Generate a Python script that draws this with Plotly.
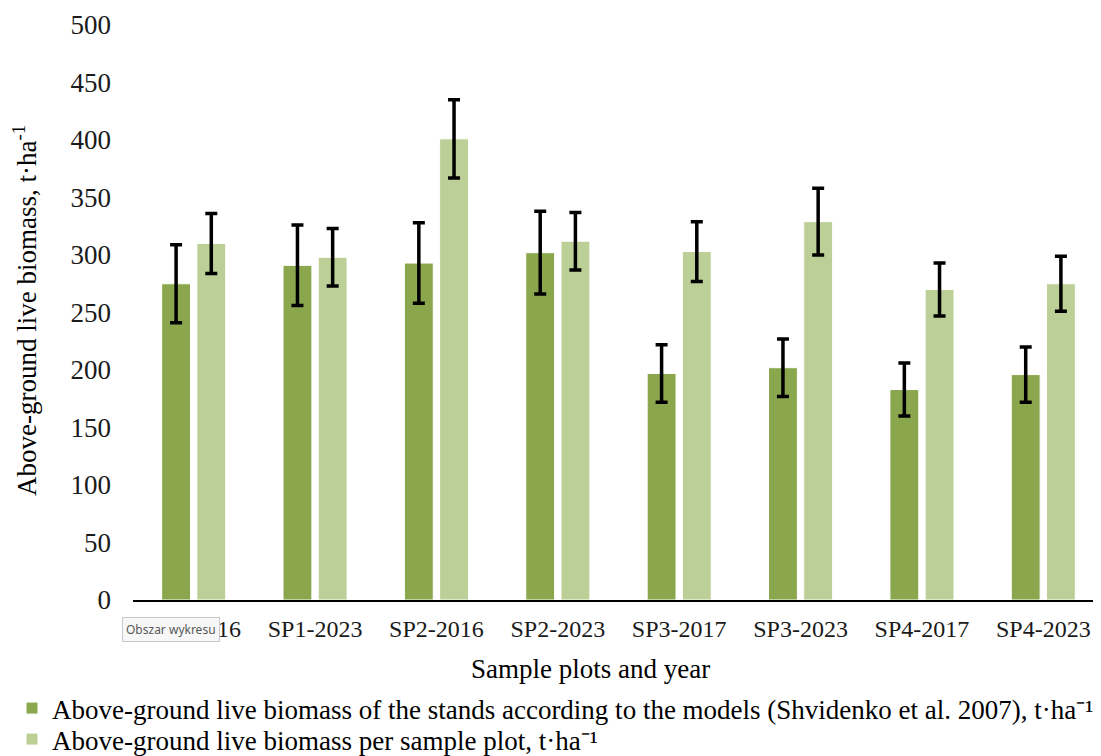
import plotly.graph_objects as go

categories = ["SP1-2016", "SP1-2023", "SP2-2016", "SP2-2023", "SP3-2017", "SP3-2023", "SP4-2017", "SP4-2023"]
model_values = [275, 291, 293, 302, 197, 202, 183, 196]
model_errors = [34, 35, 35, 36, 25, 25, 23, 24]
plot_values = [310, 298, 401, 312, 303, 329, 270, 275]
plot_errors = [26, 25, 34, 25, 26, 29, 23, 24]

name_model = "Above-ground live biomass of the stands according to the models (Shvidenko et al. 2007), t·ha⁻¹"
name_plot = "Above-ground live biomass per sample plot, t·ha⁻¹"

FONT = "Liberation Serif, Times New Roman, serif"

# layout geometry (page body adds an 8px offset)
L, R, T, B = 125, 5, 17, 164
W, H = 1101, 756
PW = W - L - R
PH = H - T - B


def px(xs):
    return (xs - 8 - L) / PW


def py(ys):
    return (H - B - (ys - 8)) / PH


fig = go.Figure()
fig.add_trace(go.Bar(
    x=categories, y=model_values, name=name_model, legend="legend",
    marker=dict(color="#8AA74E", line=dict(color="white", width=1)),
    error_y=dict(type="data", array=model_errors, visible=True, color="black", thickness=3.5, width=6),
))
fig.add_trace(go.Bar(
    x=categories, y=plot_values, name=name_plot, legend="legend2",
    marker=dict(color="#BBCF97", line=dict(color="white", width=1)),
    error_y=dict(type="data", array=plot_errors, visible=True, color="black", thickness=3.5, width=6),
))

legend_common = dict(
    xref="container", yref="container", xanchor="left", yanchor="top",
    orientation="v", font=dict(family=FONT, size=27, color="black"),
    itemwidth=30, tracegroupgap=0, bgcolor="rgba(0,0,0,0)",
)

fig.update_layout(
    width=W, height=H,
    margin=dict(l=L, r=R, t=T, b=B, autoexpand=False),
    paper_bgcolor="white", plot_bgcolor="white",
    barmode="group", bargap=0.42, bargroupgap=0.18,
    font=dict(family=FONT, size=24, color="black"),
    showlegend=True,
    legend=dict(x=4 / W, y=1 - 676 / H, **legend_common),
    legend2=dict(x=4 / W, y=1 - 707 / H, **legend_common),
    xaxis=dict(
        showline=True, linecolor="black", linewidth=2, showgrid=False,
        ticks="", tickfont=dict(family=FONT, size=24, color="#1a1a1a"),
        ticklabelstandoff=6, tickangle=0,
        automargin=False,
    ),
    yaxis=dict(
        range=[0, 500], dtick=50, showgrid=False, zeroline=False, showline=False,
        ticks="", tickfont=dict(family=FONT, size=27, color="#1a1a1a"),
        ticklabelstandoff=21,
        automargin=False,
    ),
)

fig.add_annotation(
    text="Above-ground live biomass, t·ha<sup>-1</sup>", xref="paper", yref="paper",
    x=px(25), y=py(311), xanchor="center", yanchor="middle", textangle=-90,
    showarrow=False, font=dict(family=FONT, size=27, color="black"),
)
fig.add_annotation(
    text="Sample plots and year", xref="paper", yref="paper",
    x=px(590), y=py(669), xanchor="center", yanchor="middle",
    showarrow=False, font=dict(family=FONT, size=27, color="black"),
)
fig.add_annotation(
    text="Obszar wykresu", xref="paper", yref="paper",
    x=px(170.5), y=py(629.5), xanchor="center", yanchor="middle",
    showarrow=False, font=dict(family="Noto Sans, DejaVu Sans, sans-serif", size=12, color="#575757"),
    bgcolor="#f7f7f7", bordercolor="#c8c8c8", borderwidth=1, borderpad=3,
)

fig.write_html("out.html")
